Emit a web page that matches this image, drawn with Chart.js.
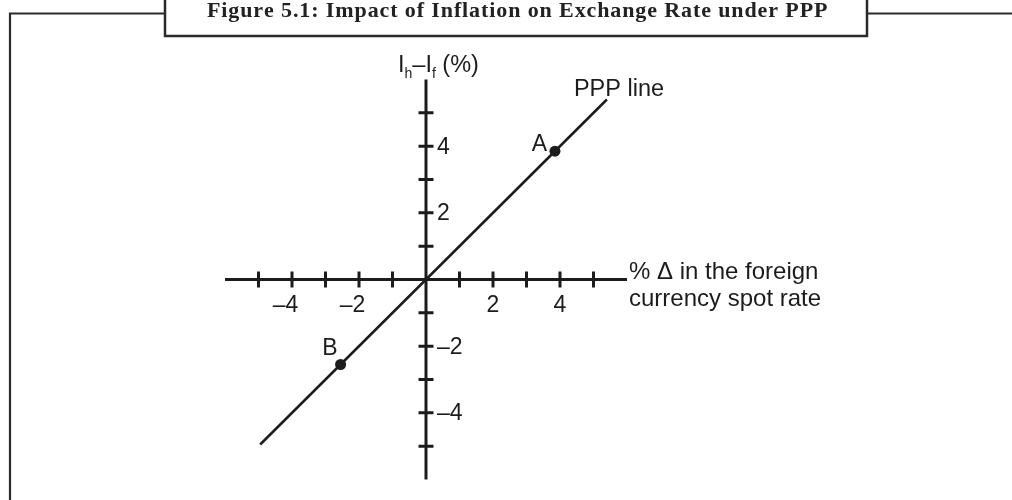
<!DOCTYPE html>
<html>
<head>
<meta charset="utf-8">
<title>Impact of Inflation on Exchange Rate under PPP</title>
<script src="https://cdn.jsdelivr.net/npm/chart.js@4.4.1/dist/chart.umd.min.js"></script>
<style>
  html, body { margin: 0; padding: 0; background: #fff; }
  #wrap { position: relative; width: 1012px; height: 500px; }
</style>
</head>
<body>
<div id="wrap"><canvas id="myChart"></canvas></div>
<script>
// Teks gambar
const figureTitle = 'Figure 5.1: Impact of Inflation on Exchange Rate under PPP';
const xTitleLines = ['% \u0394 in the foreign', 'currency spot rate'];
const yTitleParts = ['I', 'h', '\u2013I', 'f', ' (%)']; // index ganjil = subscript
const lineName = 'PPP line';

// Sumbu
const axisMin = -6;
const axisMax = 6;
const tickValues = [-5, -4, -3, -2, -1, 1, 2, 3, 4, 5];
const xLabelValues = [-4, -2, 2, 4];
const yLabelValues = [4, 2, -2, -4];

// Garis PPP dan titik A, B
const pppX = [-4.95, 5.4];
const pppY = [-4.95, 5.4];
const pointNames = ['A', 'B'];
const pointX = [3.85, -2.55];
const pointY = [3.85, -2.55];

const ink = '#1c1c1c';
const sansFont = '"Liberation Sans", Arial, sans-serif';

function fmt(v) {
  return v < 0 ? '\u2013' + Math.abs(v) : String(v);
}

// Bingkai dan judul di atas
function drawFrame(ctx, chart) {
  const w = chart.width, h = chart.height;
  ctx.save();
  ctx.strokeStyle = '#2a2a2a';
  ctx.lineWidth = 2.2;
  ctx.beginPath();
  ctx.moveTo(10, h + 2);
  ctx.lineTo(10, 13.5);
  ctx.lineTo(165, 13.5);
  ctx.moveTo(867, 13.5);
  ctx.lineTo(w + 2, 13.5);
  ctx.stroke();
  ctx.lineWidth = 2.5;
  ctx.strokeRect(165, -5, 702, 41);

  // judul dengan jarak huruf disesuaikan
  ctx.fillStyle = '#222';
  ctx.font = 'bold 22px "Liberation Serif", "Times New Roman", serif';
  ctx.textBaseline = 'alphabetic';
  ctx.textAlign = 'left';
  const target = 620;
  const natural = ctx.measureText(figureTitle).width;
  const extra = (target - natural) / (figureTitle.length - 1);
  let x = 207;
  for (const ch of figureTitle) {
    ctx.fillText(ch, x, 17);
    x += ctx.measureText(ch).width + extra;
  }
  ctx.restore();
}

// Sumbu melalui titik nol
function drawAxes(ctx, chart) {
  const xs = chart.scales.x, ys = chart.scales.y;
  const x0 = xs.getPixelForValue(0), y0 = ys.getPixelForValue(0);
  ctx.save();
  ctx.strokeStyle = ink;
  ctx.lineCap = 'butt';
  ctx.lineWidth = 3;
  ctx.beginPath();
  ctx.moveTo(xs.getPixelForValue(axisMin), y0);
  ctx.lineTo(xs.getPixelForValue(axisMax), y0);
  ctx.moveTo(x0, ys.getPixelForValue(axisMax));
  ctx.lineTo(x0, ys.getPixelForValue(axisMin));
  ctx.stroke();

  ctx.beginPath();
  tickValues.forEach(function (v) {
    const px = xs.getPixelForValue(v);
    ctx.moveTo(px, y0 - 8);
    ctx.lineTo(px, y0 + 8);
    const py = ys.getPixelForValue(v);
    ctx.moveTo(x0 - 7.5, py);
    ctx.lineTo(x0 + 7.5, py);
  });
  ctx.stroke();

  ctx.fillStyle = ink;
  ctx.font = '23px ' + sansFont;
  ctx.textBaseline = 'alphabetic';
  ctx.textAlign = 'left';
  xLabelValues.forEach(function (v) {
    const txt = fmt(v);
    const digits = String(Math.abs(v));
    const W = ctx.measureText(txt).width;
    const d = ctx.measureText(digits).width;
    const px = xs.getPixelForValue(v);
    ctx.fillText(txt, px - d / 2 - (W - d), y0 + 32.5);
  });
  ctx.textBaseline = 'middle';
  yLabelValues.forEach(function (v) {
    ctx.fillText(fmt(v), x0 + 11, ys.getPixelForValue(v) + 1);
  });

  // judul sumbu y dengan subscript
  ctx.textBaseline = 'alphabetic';
  let tx = x0 - 28;
  const ty = ys.getPixelForValue(axisMax) - 7.5;
  yTitleParts.forEach(function (part, i) {
    if (i % 2 === 1) {
      ctx.font = '14px ' + sansFont;
      ctx.fillText(part, tx, ty + 6);
    } else {
      ctx.font = '23.5px ' + sansFont;
      ctx.fillText(part, tx, ty);
    }
    tx += ctx.measureText(part).width;
  });

  // judul sumbu x (dua baris)
  ctx.font = '24px ' + sansFont;
  const xe = xs.getPixelForValue(axisMax) + 2;
  xTitleLines.forEach(function (line, i) {
    ctx.fillText(line, xe, y0 - 1 + i * 27);
  });
  ctx.restore();
}

const figurePlugin = {
  id: 'figurePlugin',
  beforeDatasetsDraw: function (chart) {
    drawFrame(chart.ctx, chart);
    drawAxes(chart.ctx, chart);
  },
  afterDatasetsDraw: function (chart) {
    const ctx = chart.ctx;
    ctx.save();
    ctx.fillStyle = ink;
    ctx.font = '23px ' + sansFont;
    ctx.textBaseline = 'alphabetic';
    ctx.textAlign = 'right';
    const pts = chart.getDatasetMeta(1).data;
    pts.forEach(function (el, i) {
      if (pointY[i] >= 0) {
        ctx.fillText(pointNames[i], el.x - 8, el.y);
      } else {
        ctx.fillText(pointNames[i], el.x - 3, el.y - 10);
      }
    });
    // label garis PPP di ujung atas
    const ends = chart.getDatasetMeta(0).data;
    const top = ends[ends.length - 1];
    ctx.textAlign = 'left';
    ctx.font = '23.5px ' + sansFont;
    ctx.fillText(lineName, top.x - 33, top.y - 4);
    ctx.restore();
  }
};

const ctx = document.getElementById('myChart').getContext('2d');
const myChart = new Chart(ctx, {
  type: 'scatter',
  data: {
    datasets: [
      {
        label: lineName,
        data: pppX.map((x, i) => ({ x: x, y: pppY[i] })),
        showLine: true,
        borderColor: ink,
        borderWidth: 2.5,
        pointRadius: 0,
        fill: false,
      },
      {
        label: 'points',
        data: pointX.map((x, i) => ({ x: x, y: pointY[i] })),
        showLine: false,
        backgroundColor: ink,
        borderColor: ink,
        pointRadius: 5.5,
        pointBorderWidth: 0,
      },
    ],
  },
  options: {
    responsive: true,
    maintainAspectRatio: false,
    animation: false,
    layout: { padding: { left: 225, right: 385, top: 79.5, bottom: 20.5 } },
    plugins: {
      legend: { display: false },
      tooltip: { enabled: false },
    },
    scales: {
      x: { type: 'linear', min: axisMin, max: axisMax, display: false },
      y: { type: 'linear', min: axisMin, max: axisMax, display: false },
    },
  },
  plugins: [figurePlugin],
});
</script>
</body>
</html>
